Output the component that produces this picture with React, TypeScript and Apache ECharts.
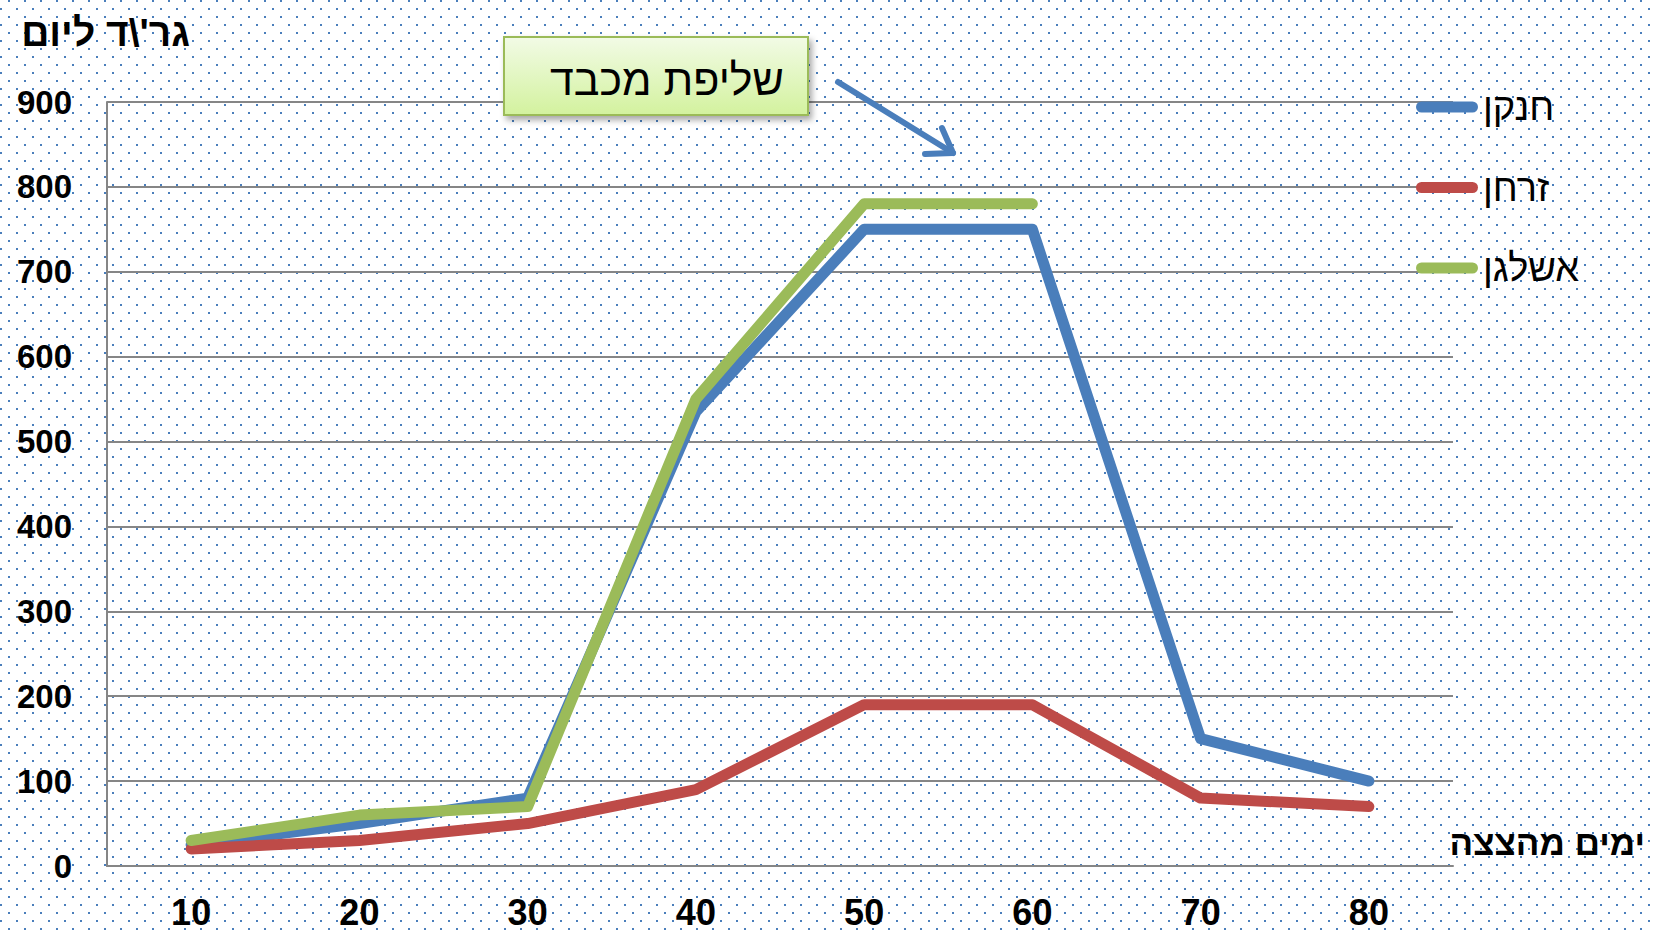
import React, { useEffect, useRef } from "react";
import * as echarts from "echarts";

const categories = ["10", "20", "30", "40", "50", "60", "70", "80"];
const seriesNames = ["חנקן", "זרחן", "אשלגן"];
const nitrogen = [25, 50, 80, 535, 750, 750, 150, 100];
const phosphorus = [20, 30, 50, 90, 190, 190, 80, 70];
const potassium: (number | string)[] = [30, 60, 70, 550, 780, 780, "-", "-"];
const yMin = 0;
const yMax = 900;
const yStep = 100;
const yAxisTitle = "גר'\\ד ליום";
const xAxisTitle = "ימים מהצצה";
const annotationText = "שליפת מכבד";

const colors = ["#4a7ebb", "#be4b48", "#9bbb59"];
const FONT = '"Liberation Sans", Arial, "DejaVu Sans", sans-serif';

const dotTile =
  "url(\"data:image/svg+xml;utf8," +
  encodeURIComponent(
    '<svg xmlns="http://www.w3.org/2000/svg" width="16" height="16"><rect x="8" y="0" width="2" height="2" fill="#4a7ebb"/><rect x="0" y="8" width="2" height="2" fill="#4a7ebb"/></svg>'
  ) +
  "\")";

export default function App() {
  const ref = useRef<HTMLDivElement>(null);

  useEffect(() => {
    if (!ref.current) return;
    const chart = echarts.init(ref.current, undefined, { renderer: "svg" });
    const values = [nitrogen, phosphorus, potassium];

    chart.setOption({
      animation: false,
      backgroundColor: "transparent",
      grid: { left: 107, right: 201, top: 102, bottom: 67, containLabel: false },
      legend: {
        orient: "vertical",
        left: 1411,
        top: 82,
        itemWidth: 62,
        itemHeight: 11,
        itemGap: 40.5,
        icon: "path://M5.5,0 L56.5,0 A5.5,5.5 0 0 1 56.5,11 L5.5,11 A5.5,5.5 0 0 1 5.5,0 Z",
        data: seriesNames,
        textStyle: { fontSize: 38, color: "#000", fontFamily: FONT, lineHeight: 40 },
      },
      xAxis: {
        type: "category",
        data: categories,
        boundaryGap: true,
        axisLine: { show: true, lineStyle: { color: "#868686", width: 2 } },
        axisTick: { show: false },
        axisLabel: {
          fontSize: 36,
          fontWeight: "bold",
          color: "#000",
          fontFamily: FONT,
          margin: 28,
          lineHeight: 36,
        },
        splitLine: { show: false },
      },
      yAxis: {
        type: "value",
        min: yMin,
        max: yMax,
        interval: yStep,
        axisLine: { show: true, lineStyle: { color: "#868686", width: 2 } },
        axisTick: { show: false },
        axisLabel: {
          fontSize: 33,
          fontWeight: "bold",
          color: "#000",
          fontFamily: FONT,
          margin: 35,
        },
        splitLine: { show: true, lineStyle: { color: "#868686", width: 2 } },
      },
      series: seriesNames.map((name, i) => ({
        name,
        type: "line",
        data: values[i],
        symbol: "none",
        showSymbol: false,
        color: colors[i],
        itemStyle: { color: colors[i] },
        lineStyle: { color: colors[i], width: 11, cap: "round", join: "round" },
        z: 2 + i,
      })),
      graphic: [
        {
          type: "text",
          x: 190,
          y: 32,
          style: {
            text: yAxisTitle,
            fontSize: 39,
            fontWeight: "bold",
            fontFamily: FONT,
            fill: "#000",
            align: "right",
            verticalAlign: "middle",
          },
        },
        {
          type: "text",
          x: 1645,
          y: 842,
          style: {
            text: xAxisTitle,
            fontSize: 35,
            fontWeight: "bold",
            fontFamily: FONT,
            fill: "#000",
            align: "right",
            verticalAlign: "middle",
          },
        },
        {
          type: "rect",
          z: 100,
          shape: { x: 504, y: 37, width: 304, height: 78 },
          style: {
            fill: new echarts.graphic.LinearGradient(0, 0, 0, 1, [
              { offset: 0, color: "#f2fbe6" },
              { offset: 1, color: "#d3f29e" },
            ]),
            stroke: "#9bbb59",
            lineWidth: 2,
            shadowBlur: 6,
            shadowOffsetX: 3,
            shadowOffsetY: 4,
            shadowColor: "rgba(0,0,0,0.35)",
          },
        },
        {
          type: "text",
          z: 101,
          x: 667,
          y: 80,
          style: {
            text: annotationText,
            fontSize: 43,
            fontFamily: FONT,
            fill: "#000",
            align: "center",
            verticalAlign: "middle",
          },
        },
        {
          type: "line",
          z: 100,
          shape: { x1: 838, y1: 82, x2: 953, y2: 153 },
          style: { stroke: "#4a7ebb", lineWidth: 6, lineCap: "round" },
        },
        {
          type: "polyline",
          z: 100,
          shape: { points: [[925, 154], [953, 153], [942, 128]] },
          style: { stroke: "#4a7ebb", lineWidth: 6, fill: "none", lineCap: "round", lineJoin: "round" },
        },
      ],
    });

    return () => {
      chart.dispose();
    };
  }, []);

  return (
    <div
      style={{
        position: "absolute",
        left: 0,
        top: 0,
        width: 1654,
        height: 933,
        backgroundColor: "#ffffff",
        backgroundImage: dotTile,
        backgroundRepeat: "repeat",
      }}
    >
      <div ref={ref} style={{ width: 1654, height: 933 }} />
    </div>
  );
}
